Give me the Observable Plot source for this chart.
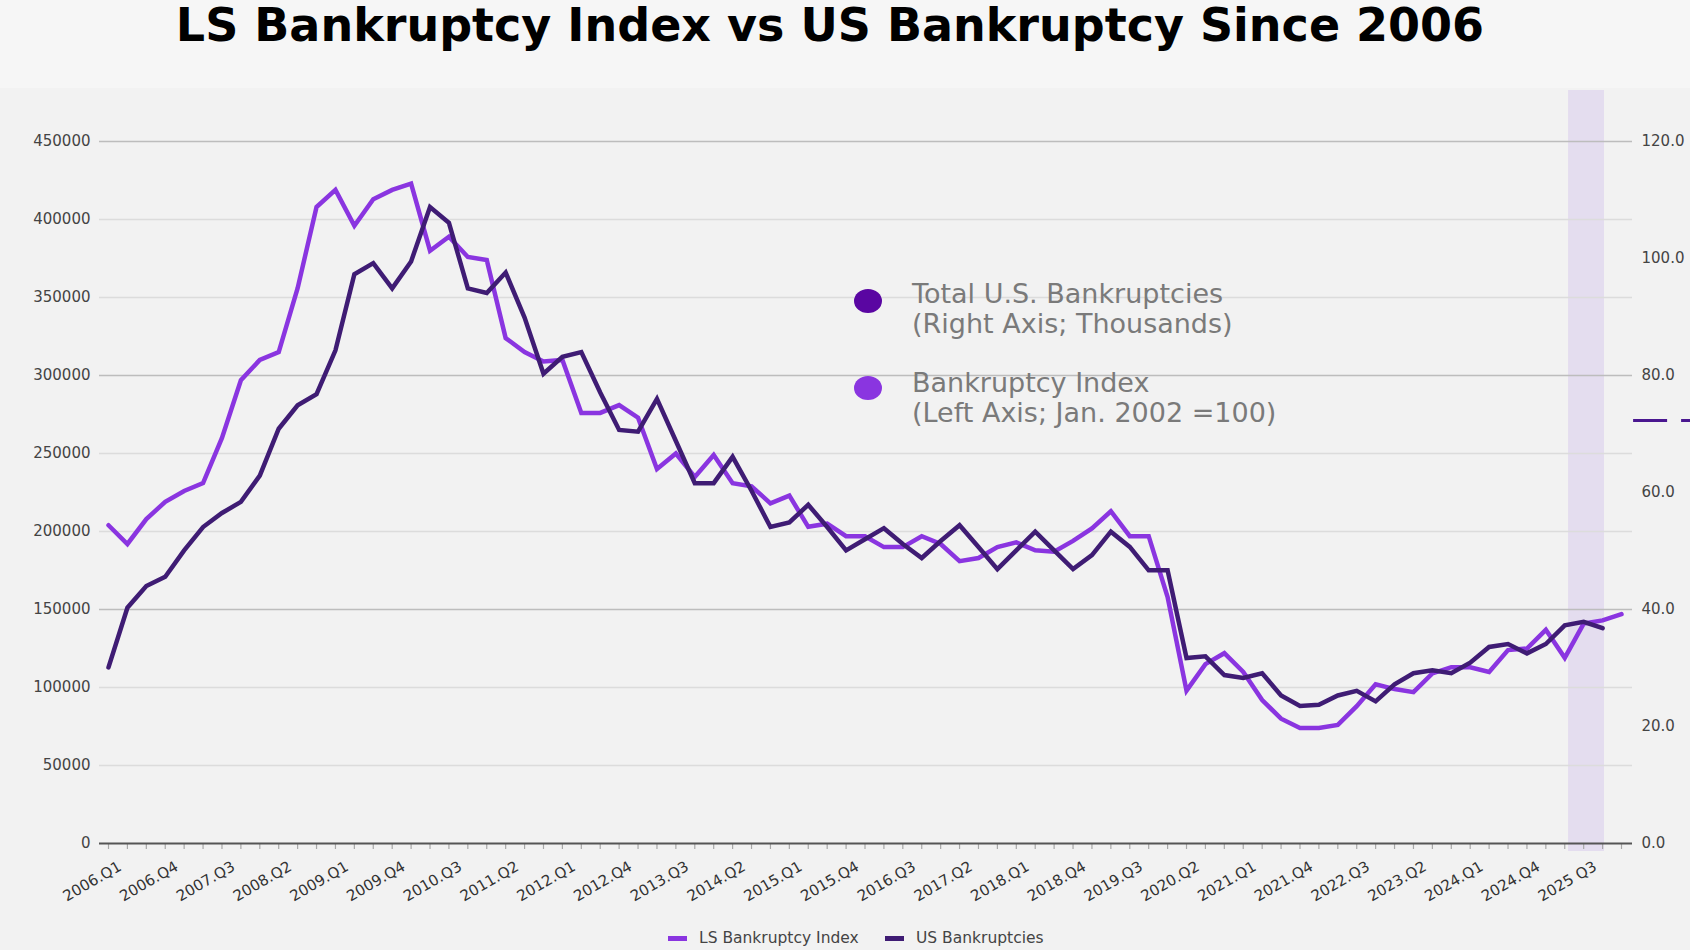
<!DOCTYPE html>
<html>
<head>
<meta charset="utf-8">
<script src="https://cdn.jsdelivr.net/npm/d3@7"></script>
<script src="https://cdn.jsdelivr.net/npm/@observablehq/plot@0.6"></script>
<style>
  html, body { margin: 0; padding: 0; }
  body { width: 1690px; height: 950px; background: #f2f2f2; position: relative; overflow: hidden; font-family: "DejaVu Sans", sans-serif; }
  #header { position: absolute; left: 0; top: 0; width: 1690px; height: 88px; background: #f6f6f6; }
  #title { position: absolute; left: 0; top: 2px; width: 1660px; text-align: center; font-size: 46px; line-height: 46px; font-weight: bold; color: #000; white-space: nowrap; }
  #chart { position: absolute; left: 0; top: 88px; }
  .ann-dot { position: absolute; width: 28px; height: 24px; border-radius: 50%; }
  .ann-text { position: absolute; left: 912px; font-size: 27px; line-height: 30px; color: #7a7a7a; white-space: nowrap; }
  .leg-sw { position: absolute; top: 936px; width: 19px; height: 5px; }
  .leg-tx { position: absolute; top: 928px; font-size: 15.5px; line-height: 20px; color: #444; white-space: nowrap; }
</style>
</head>
<body>
<div id="header"><div id="title">LS Bankruptcy Index vs US Bankruptcy Since 2006</div></div>
<div id="chart"></div>
<div id="annotations"></div>
<div id="legend"></div>
<script>
// ---------------- data ----------------
const startYear = 2006; // first quarter = 2006 Q1, one value per quarter

// LS Bankruptcy Index (left axis), 2006 Q1 .. 2026 Q1
const lsIndex = [
  204000, 192000, 208000, 219000, 226000, 231000, 260000, 297000,
  310000, 315000, 356000, 408000, 419000, 396000, 413000, 419000,
  423000, 380000, 389000, 376000, 374000, 324000, 315000, 309000,
  310000, 276000, 276000, 281000, 273000, 240000, 250000, 235000,
  249000, 231000, 229000, 218000, 223000, 203000, 205000, 197000,
  197000, 190000, 190000, 197000, 192000, 181000, 183000, 190000,
  193000, 188000, 187000, 194000, 202000, 213000, 197000, 197000,
  158000, 98000, 115000, 122000, 110000, 92000, 80000, 74000,
  74000, 76000, 88000, 102000, 99000, 97000, 109000, 113000,
  113000, 110000, 124000, 125000, 137000, 119000, 141000, 143000,
  147000
];

// Total U.S. Bankruptcies (right axis, thousands), 2006 Q1 .. 2025 Q4
const usBankruptciesK = [
  30.1, 40.3, 44.0, 45.6, 50.1, 54.1, 56.5, 58.4,
  62.9, 70.9, 74.9, 76.8, 84.3, 97.3, 99.2, 94.9,
  99.5, 108.8, 106.1, 94.9, 94.1, 97.6, 89.9, 80.3,
  83.2, 84.0, 77.1, 70.7, 70.4, 76.0, 68.8, 61.6,
  61.6, 66.1, 60.3, 54.1, 54.9, 57.9, 54.1, 50.1,
  52.0, 53.9, 51.2, 48.8, 51.7, 54.4, 50.7, 46.9,
  50.1, 53.3, 50.1, 46.9, 49.3, 53.3, 50.7, 46.7,
  46.7, 31.7, 32.0, 28.8, 28.3, 29.1, 25.3, 23.5,
  23.7, 25.3, 26.1, 24.3, 27.2, 29.1, 29.6, 29.1,
  30.9, 33.6, 34.1, 32.5, 34.1, 37.3, 37.9, 36.8
];

const leftTicks = [0, 50000, 100000, 150000, 200000, 250000, 300000, 350000, 400000, 450000];
const rightTicks = [0, 20, 40, 60, 80, 100, 120];
const xTickLabels = [
  "2006.Q1", "2006.Q4", "2007.Q3", "2008.Q2", "2009.Q1", "2009.Q4", "2010.Q3",
  "2011.Q2", "2012.Q1", "2012.Q4", "2013.Q3", "2014.Q2", "2015.Q1", "2015.Q4",
  "2016.Q3", "2017.Q2", "2018.Q1", "2018.Q4", "2019.Q3", "2020.Q2", "2021.Q1",
  "2021.Q4", "2022.Q3", "2023.Q2", "2024.Q1", "2024.Q4", "2025 Q3"
];
const highlightQuarters = [77.2, 79.1];   // shaded period (quarter index units)
const refDash = [72.3, 80.64, 84.6];      // level (right-axis units), from, to (quarter index)

const seriesNames = ["LS Bankruptcy Index", "US Bankruptcies"];
const seriesColors = ["#8a35e0", "#3f1c74"];
const annLines = [
  ["Total U.S. Bankruptcies", "(Right Axis; Thousands)"],
  ["Bankruptcy Index", "(Left Axis; Jan. 2002 =100)"]
];
const annColors = ["#5a06a2", "#8a35e0"];

// ---------------- build ----------------
const rightToLeft = 450000 / 120;
const qIndex = s => { const m = s.match(/(\d{4})\D*Q(\d)/); return (+m[1] - startYear) * 4 + (+m[2] - 1); };
const lsData = lsIndex.map((v, i) => ({i, v}));
const usData = usBankruptciesK.map((v, i) => ({i, v: v * rightToLeft}));
const allQ = d3.range(lsIndex.length);

const chart = Plot.plot({
  width: 1690,
  height: 820,
  marginLeft: 99,
  marginRight: 58,
  marginTop: 2,
  marginBottom: 65,
  style: {background: "transparent", fontFamily: "'DejaVu Sans', sans-serif", overflow: "visible"},
  x: {type: "linear", domain: [0, lsIndex.length - 1], range: [108, 1621], axis: null},
  y: {type: "linear", domain: [0, 450000], range: [755, 53], axis: null},
  marks: [
    Plot.rect([highlightQuarters], {x1: d => d[0], x2: d => d[1], fill: "#e4ddef", insetBottom: -8}),
    Plot.ruleY(leftTicks.filter(d => d > 0), {y: d => d, stroke: d => d % 150000 === 0 ? "#bdbdbd" : "#dcdcdc", strokeWidth: 1.5}),
    Plot.ruleX(allQ, {x: d => d, y1: 0, y2: 0, insetBottom: -6, stroke: "#a8a8a8", strokeWidth: 1.2}),
    Plot.ruleY([0], {y: d => d, stroke: "#555", strokeWidth: 2}),
    Plot.text(leftTicks, {y: d => d, frameAnchor: "left", textAnchor: "end", dx: -9, text: d => String(d), fontSize: 15, fill: "#444"}),
    Plot.text(rightTicks, {y: d => d * rightToLeft, frameAnchor: "right", textAnchor: "start", dx: 9, text: d => d.toFixed(1), fontSize: 15, fill: "#444"}),
    Plot.text(xTickLabels, {x: qIndex, frameAnchor: "bottom", text: d => d, rotate: -30, textAnchor: "end", dx: 14, dy: 26, fontSize: 15, fill: "#333"}),
    Plot.line(lsData, {x: "i", y: "v", stroke: seriesColors[0], strokeWidth: 4.5, strokeLinejoin: "miter", strokeMiterlimit: 4}),
    Plot.line(usData, {x: "i", y: "v", stroke: seriesColors[1], strokeWidth: 4.5, strokeLinejoin: "miter", strokeMiterlimit: 4}),
    Plot.ruleY([refDash], {y: d => d[0] * rightToLeft, x1: d => d[1], x2: d => d[2], stroke: "#4a1790", strokeWidth: 3, strokeDasharray: "34,14"})
  ]
});
document.getElementById("chart").appendChild(chart);

// in-chart annotation legend
const ann = document.getElementById("annotations");
const annTops = [279, 368];
const dotTops = [289, 376];
annLines.forEach((lines, k) => {
  const dot = document.createElement("div");
  dot.className = "ann-dot";
  dot.style.left = "854px";
  dot.style.top = dotTops[k] + "px";
  dot.style.background = annColors[k];
  ann.appendChild(dot);
  const tx = document.createElement("div");
  tx.className = "ann-text";
  tx.style.top = annTops[k] + "px";
  tx.innerHTML = lines.join("<br>");
  ann.appendChild(tx);
});

// bottom legend
const leg = document.getElementById("legend");
const swLeft = [668, 885], txLeft = [699, 916];
seriesNames.forEach((name, k) => {
  const sw = document.createElement("div");
  sw.className = "leg-sw";
  sw.style.left = swLeft[k] + "px";
  sw.style.background = seriesColors[k];
  leg.appendChild(sw);
  const tx = document.createElement("div");
  tx.className = "leg-tx";
  tx.style.left = txLeft[k] + "px";
  tx.textContent = name;
  leg.appendChild(tx);
});
</script>
</body>
</html>
